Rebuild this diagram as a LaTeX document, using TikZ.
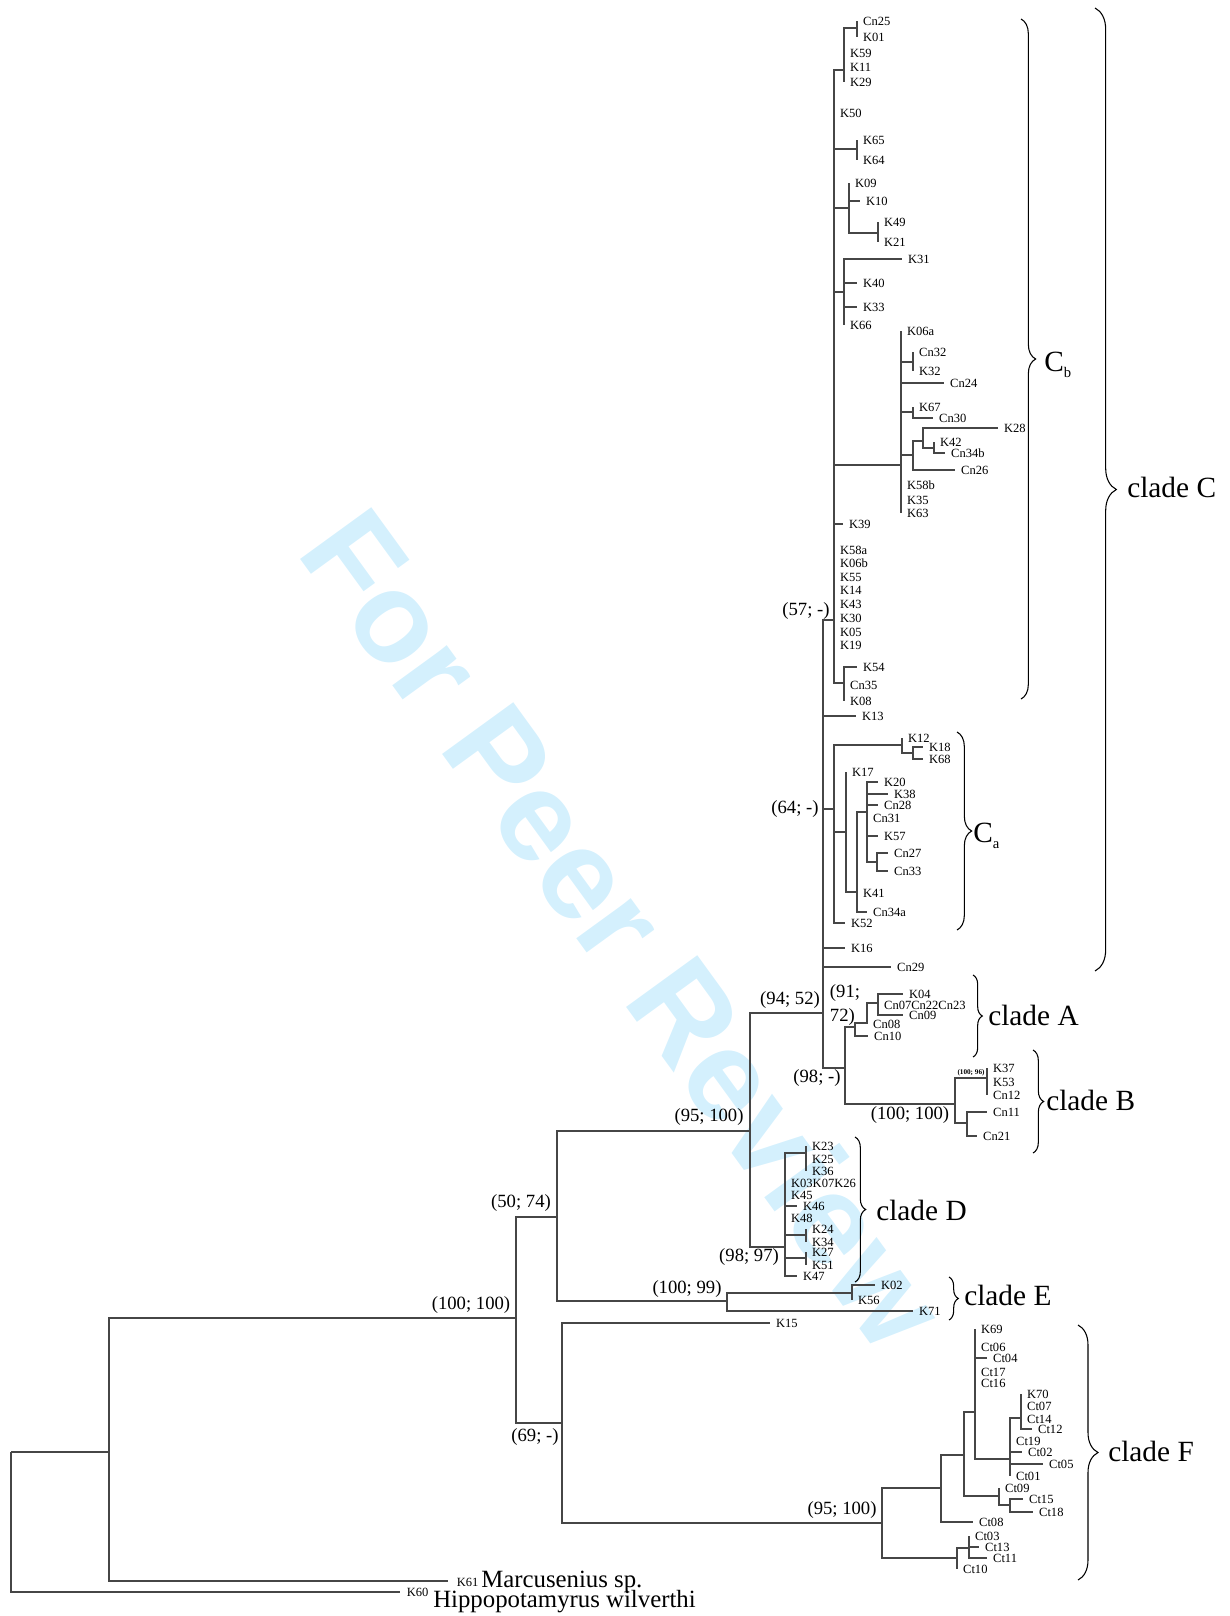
\documentclass[tikz,border=0pt]{standalone}
\usepackage{fontspec}
\setmainfont{Liberation Serif}
\newfontfamily\wmfont{Liberation Sans}
\usepackage{xcolor}
\definecolor{wm}{RGB}{212,240,253}
\definecolor{br}{RGB}{70,70,70}
\usepackage{tikz}
\usetikzlibrary{decorations.pathreplacing,positioning}

\begin{document}
\begin{tikzpicture}[x=0.75pt,y=-0.75pt,label distance=4pt,
  edge/.style={draw=br,line width=0.8pt},
  leaf/.style={font=\fontsize{9.4}{10}\selectfont,inner sep=0.4pt},
  supp/.style={font=\fontsize{14}{18}\selectfont,inner sep=0pt},
  species/.style={font=\fontsize{18.6}{20}\selectfont,inner sep=0pt},
  clade/.style={font=\fontsize{22}{24}\selectfont,anchor=west,inner sep=0pt},
  cbrace/.style={draw=black,line width=0.8pt,decorate,decoration={brace,amplitude=#1}}]
  \useasboundingbox (0,0) rectangle (1230,1616);
  \node[rotate=-54,anchor=base,text=wm,font=\wmfont\fontsize{96}{96}\selectfont\bfseries] (wmark) at (588,955) {For Peer Review};

  \coordinate (root) at (11,1452);
  \coordinate (n1) at (109,1452);
  \coordinate (n2) at (516,1318);
  \coordinate (n3) at (557,1217);
  \coordinate (n4) at (562,1423);
  \coordinate (n5) at (750,1131);
  \coordinate (n6) at (823,1013);
  \coordinate (nCb) at (834,620);
  \coordinate (nCb1) at (844,70);
  \coordinate (nCn25) at (857,28);
  \coordinate (nK65) at (857,149);
  \coordinate (nK09) at (849,208);
  \coordinate (nK49) at (878,233);
  \coordinate (nK31) at (844,292);
  \coordinate (nK06a) at (901,465);
  \coordinate (nCn32) at (913,362);
  \coordinate (nK67) at (913,412);
  \coordinate (nK28) at (913,455);
  \coordinate (nK28b) at (923,441);
  \coordinate (nK42) at (934,448);
  \coordinate (nK54) at (844,683);
  \coordinate (nCa) at (834,809);
  \coordinate (nK12) at (902,745);
  \coordinate (nK18) at (913,753);
  \coordinate (nK17) at (846,832);
  \coordinate (nK41) at (857,892);
  \coordinate (nK20) at (867,812);
  \coordinate (nCn27) at (877,862);
  \coordinate (nAB) at (845,1068);
  \coordinate (nA) at (855,1027);
  \coordinate (nA1) at (867,1023);
  \coordinate (nA2) at (878,1003);
  \coordinate (nB) at (955,1104);
  \coordinate (nB1) at (987,1078);
  \coordinate (nB2) at (967,1123);
  \coordinate (nD) at (785,1247);
  \coordinate (nK23) at (806,1153);
  \coordinate (nK24) at (806,1235);
  \coordinate (nK27) at (806,1258);
  \coordinate (nE) at (727,1301);
  \coordinate (nK02) at (852,1293);
  \coordinate (nF) at (882,1523);
  \coordinate (nF1) at (941,1488);
  \coordinate (nF2) at (957,1558);
  \coordinate (nF3) at (964,1455);
  \coordinate (nF4) at (975,1412);
  \coordinate (nF5) at (1010,1459);
  \coordinate (nK70) at (1021,1418);
  \coordinate (nCt09) at (999,1496);
  \coordinate (nCt15) at (1010,1505);
  \coordinate (nCt03) at (969,1548);

  \coordinate[label={[leaf]right:Cn25}] (Cn25) at (857,21);
  \coordinate[label={[leaf]right:K01}] (K01) at (857,37);
  \coordinate[label={[leaf]right:K59}] (K59) at (844,53);
  \coordinate[label={[leaf]right:K11}] (K11) at (844,67);
  \coordinate[label={[leaf]right:K29}] (K29) at (844,82);
  \coordinate[label={[leaf]right:K50}] (K50) at (834,113);
  \coordinate[label={[leaf]right:K65}] (K65) at (857,140);
  \coordinate[label={[leaf]right:K64}] (K64) at (857,160);
  \coordinate[label={[leaf]right:K09}] (K09) at (849,183);
  \coordinate[label={[leaf]right:K10}] (K10) at (860,201);
  \coordinate[label={[leaf]right:K49}] (K49) at (878,222);
  \coordinate[label={[leaf]right:K21}] (K21) at (878,242);
  \coordinate[label={[leaf]right:K31}] (K31) at (902,259);
  \coordinate[label={[leaf]right:K40}] (K40) at (857,283);
  \coordinate[label={[leaf]right:K33}] (K33) at (857,307);
  \coordinate[label={[leaf]right:K66}] (K66) at (844,325);
  \coordinate[label={[leaf]right:K06a}] (K06a) at (901,331);
  \coordinate[label={[leaf]right:Cn32}] (Cn32) at (913,352);
  \coordinate[label={[leaf]right:K32}] (K32) at (913,371);
  \coordinate[label={[leaf]right:Cn24}] (Cn24) at (944,383);
  \coordinate[label={[leaf]right:K67}] (K67) at (913,407);
  \coordinate[label={[leaf]right:Cn30}] (Cn30) at (933,418);
  \coordinate[label={[leaf]right:K28}] (K28) at (998,428);
  \coordinate[label={[leaf]right:K42}] (K42) at (934,442);
  \coordinate[label={[leaf]right:Cn34b}] (Cn34b) at (945,453);
  \coordinate[label={[leaf]right:Cn26}] (Cn26) at (955,470);
  \coordinate[label={[leaf]right:K58b}] (K58b) at (901,485);
  \coordinate[label={[leaf]right:K35}] (K35) at (901,500);
  \coordinate[label={[leaf]right:K63}] (K63) at (901,513);
  \coordinate[label={[leaf]right:K39}] (K39) at (843,524);
  \coordinate[label={[leaf]right:K58a}] (K58a) at (834,550);
  \coordinate[label={[leaf]right:K06b}] (K06b) at (834,563);
  \coordinate[label={[leaf]right:K55}] (K55) at (834,577);
  \coordinate[label={[leaf]right:K14}] (K14) at (834,590);
  \coordinate[label={[leaf]right:K43}] (K43) at (834,604);
  \coordinate[label={[leaf]right:K30}] (K30) at (834,618);
  \coordinate[label={[leaf]right:K05}] (K05) at (834,632);
  \coordinate[label={[leaf]right:K19}] (K19) at (834,645);
  \coordinate[label={[leaf]right:K54}] (K54) at (857,667);
  \coordinate[label={[leaf]right:Cn35}] (Cn35) at (844,685);
  \coordinate[label={[leaf]right:K08}] (K08) at (844,701);
  \coordinate[label={[leaf]right:K13}] (K13) at (856,716);
  \coordinate[label={[leaf]right:K12}] (K12) at (902,738);
  \coordinate[label={[leaf]right:K18}] (K18) at (923,747);
  \coordinate[label={[leaf]right:K68}] (K68) at (923,759);
  \coordinate[label={[leaf]right:K17}] (K17) at (846,772);
  \coordinate[label={[leaf]right:K20}] (K20) at (878,782);
  \coordinate[label={[leaf]right:K38}] (K38) at (888,794);
  \coordinate[label={[leaf]right:Cn28}] (Cn28) at (878,805);
  \coordinate[label={[leaf]right:Cn31}] (Cn31) at (867,818);
  \coordinate[label={[leaf]right:K57}] (K57) at (878,836);
  \coordinate[label={[leaf]right:Cn27}] (Cn27) at (888,853);
  \coordinate[label={[leaf]right:Cn33}] (Cn33) at (888,871);
  \coordinate[label={[leaf]right:K41}] (K41) at (857,893);
  \coordinate[label={[leaf]right:Cn34a}] (Cn34a) at (867,912);
  \coordinate[label={[leaf]right:K52}] (K52) at (845,923);
  \coordinate[label={[leaf]right:K16}] (K16) at (845,948);
  \coordinate[label={[leaf]right:Cn29}] (Cn29) at (891,967);
  \coordinate[label={[leaf]right:K04}] (K04) at (903,994);
  \coordinate[label={[leaf]right:Cn07Cn22Cn23}] (Cn07Cn22Cn23) at (878,1005);
  \coordinate[label={[leaf]right:Cn09}] (Cn09) at (903,1015);
  \coordinate[label={[leaf]right:Cn08}] (Cn08) at (867,1024);
  \coordinate[label={[leaf]right:Cn10}] (Cn10) at (868,1036);
  \coordinate[label={[leaf]right:K37}] (K37) at (987,1068);
  \coordinate[label={[leaf]right:K53}] (K53) at (987,1082);
  \coordinate[label={[leaf]right:Cn12}] (Cn12) at (987,1095);
  \coordinate[label={[leaf]right:Cn11}] (Cn11) at (987,1112);
  \coordinate[label={[leaf]right:Cn21}] (Cn21) at (977,1136);
  \coordinate[label={[leaf]right:K23}] (K23) at (806,1146);
  \coordinate[label={[leaf]right:K25}] (K25) at (806,1159);
  \coordinate[label={[leaf]right:K36}] (K36) at (806,1171);
  \coordinate[label={[leaf]right:K03K07K26}] (K03K07K26) at (785,1183);
  \coordinate[label={[leaf]right:K45}] (K45) at (785,1195);
  \coordinate[label={[leaf]right:K46}] (K46) at (797,1206);
  \coordinate[label={[leaf]right:K48}] (K48) at (785,1218);
  \coordinate[label={[leaf]right:K24}] (K24) at (806,1229);
  \coordinate[label={[leaf]right:K34}] (K34) at (806,1242);
  \coordinate[label={[leaf]right:K27}] (K27) at (806,1252);
  \coordinate[label={[leaf]right:K51}] (K51) at (806,1265);
  \coordinate[label={[leaf]right:K47}] (K47) at (797,1276);
  \coordinate[label={[leaf]right:K02}] (K02) at (875,1285);
  \coordinate[label={[leaf]right:K56}] (K56) at (852,1300);
  \coordinate[label={[leaf]right:K71}] (K71) at (913,1311);
  \coordinate[label={[leaf]right:K15}] (K15) at (770,1323);
  \coordinate[label={[leaf]right:K69}] (K69) at (975,1329);
  \coordinate[label={[leaf]right:Ct06}] (Ct06) at (975,1347);
  \coordinate[label={[leaf]right:Ct04}] (Ct04) at (987,1358);
  \coordinate[label={[leaf]right:Ct17}] (Ct17) at (975,1372);
  \coordinate[label={[leaf]right:Ct16}] (Ct16) at (975,1383);
  \coordinate[label={[leaf]right:K70}] (K70) at (1021,1394);
  \coordinate[label={[leaf]right:Ct07}] (Ct07) at (1021,1406);
  \coordinate[label={[leaf]right:Ct14}] (Ct14) at (1021,1419);
  \coordinate[label={[leaf]right:Ct12}] (Ct12) at (1032,1429);
  \coordinate[label={[leaf]right:Ct19}] (Ct19) at (1010,1441);
  \coordinate[label={[leaf]right:Ct02}] (Ct02) at (1022,1452);
  \coordinate[label={[leaf]right:Ct05}] (Ct05) at (1043,1464);
  \coordinate[label={[leaf]right:Ct01}] (Ct01) at (1010,1476);
  \coordinate[label={[leaf]right:Ct09}] (Ct09) at (999,1488);
  \coordinate[label={[leaf]right:Ct15}] (Ct15) at (1023,1499);
  \coordinate[label={[leaf]right:Ct18}] (Ct18) at (1033,1512);
  \coordinate[label={[leaf]right:Ct08}] (Ct08) at (973,1522);
  \coordinate[label={[leaf]right:Ct03}] (Ct03) at (969,1536);
  \coordinate[label={[leaf]right:Ct13}] (Ct13) at (979,1547);
  \coordinate[label={[leaf]right:Ct11}] (Ct11) at (987,1558);
  \coordinate[label={[leaf]right:Ct10}] (Ct10) at (957,1569);
  \coordinate (K61) at (448,1581);
  \node[leaf,anchor=base west] (K61lbl) at (456,1586) {K61};
  \node[species,anchor=base west] (marc) at (481,1587) {Marcusenius sp.};
  \coordinate (K60) at (400,1592);
  \node[leaf,anchor=base west] (K60lbl) at (406,1596) {K60};
  \node[species,anchor=base west] (hipp) at (433,1607) {Hippopotamyrus wilverthi};

  \draw[edge] (root) -- (n1) (root) |- (K60);
  \draw[edge] (n1) |- (n2) (n1) |- (K61);
  \draw[edge] (n2) |- (n3) (n2) |- (n4);
  \draw[edge] (n3) |- (n5) (n3) |- (nE);
  \draw[edge] (n4) |- (K15) (n4) |- (nF);
  \draw[edge] (n5) |- (n6) (n5) |- (nD);
  \draw[edge] (n6) |- (nCb) (n6) |- (K13) (n6) |- (nCa) (n6) |- (K16) (n6) |- (Cn29) (n6) |- (nAB);
  \draw[edge] (nCb) |- (nCb1) (nCb) |- (K50) (nCb) |- (nK65) (nCb) |- (nK09) (nCb) |- (nK31) (nCb) |- (nK06a) (nCb) |- (K39);
  \draw[edge] (nCb) |- (K58a) (nCb) |- (K06b) (nCb) |- (K55) (nCb) |- (K14) (nCb) |- (K43) (nCb) |- (K30) (nCb) |- (K05) (nCb) |- (K19) (nCb) |- (nK54);
  \draw[edge] (nCb1) |- (nCn25) (nCb1) |- (K59) (nCb1) |- (K11) (nCb1) |- (K29);
  \draw[edge] (nCn25) |- (Cn25) (nCn25) |- (K01);
  \draw[edge] (nK65) |- (K65) (nK65) |- (K64);
  \draw[edge] (nK09) |- (K09) (nK09) |- (K10) (nK09) |- (nK49);
  \draw[edge] (nK49) |- (K49) (nK49) |- (K21);
  \draw[edge] (nK31) |- (K31) (nK31) |- (K40) (nK31) |- (K33) (nK31) |- (K66);
  \draw[edge] (nK06a) |- (K06a) (nK06a) |- (nCn32) (nK06a) |- (Cn24) (nK06a) |- (nK67) (nK06a) |- (nK28) (nK06a) |- (K58b) (nK06a) |- (K35) (nK06a) |- (K63);
  \draw[edge] (nCn32) |- (Cn32) (nCn32) |- (K32);
  \draw[edge] (nK67) |- (K67) (nK67) |- (Cn30);
  \draw[edge] (nK28) |- (nK28b) (nK28) |- (Cn26);
  \draw[edge] (nK28b) |- (K28) (nK28b) |- (nK42);
  \draw[edge] (nK42) |- (K42) (nK42) |- (Cn34b);
  \draw[edge] (nK54) |- (K54) (nK54) |- (Cn35) (nK54) |- (K08);
  \draw[edge] (nCa) |- (nK12) (nCa) |- (nK17) (nCa) |- (K52);
  \draw[edge] (nK12) |- (K12) (nK12) |- (nK18);
  \draw[edge] (nK18) |- (K18) (nK18) |- (K68);
  \draw[edge] (nK17) |- (K17) (nK17) |- (nK41);
  \draw[edge] (nK41) |- (nK20) (nK41) |- (K41) (nK41) |- (Cn34a);
  \draw[edge] (nK20) |- (K20) (nK20) |- (K38) (nK20) |- (Cn28) (nK20) |- (Cn31) (nK20) |- (K57) (nK20) |- (nCn27);
  \draw[edge] (nCn27) |- (Cn27) (nCn27) |- (Cn33);
  \draw[edge] (nAB) |- (nA) (nAB) |- (nB);
  \draw[edge] (nA) |- (nA1) (nA) |- (Cn10);
  \draw[edge] (nA1) |- (nA2) (nA1) |- (Cn08);
  \draw[edge] (nA2) |- (K04) (nA2) |- (Cn07Cn22Cn23) (nA2) |- (Cn09);
  \draw[edge] (nB) |- (nB1) (nB) |- (nB2);
  \draw[edge] (nB1) |- (K37) (nB1) |- (K53) (nB1) |- (Cn12);
  \draw[edge] (nB2) |- (Cn11) (nB2) |- (Cn21);
  \draw[edge] (nD) |- (nK23) (nD) |- (K03K07K26) (nD) |- (K45) (nD) |- (K46) (nD) |- (K48) (nD) |- (nK24) (nD) |- (nK27) (nD) |- (K47);
  \draw[edge] (nK23) |- (K23) (nK23) |- (K25) (nK23) |- (K36);
  \draw[edge] (nK24) |- (K24) (nK24) |- (K34);
  \draw[edge] (nK27) |- (K27) (nK27) |- (K51);
  \draw[edge] (nE) |- (nK02) (nE) |- (K71);
  \draw[edge] (nK02) |- (K02) (nK02) |- (K56);
  \draw[edge] (nF) |- (nF1) (nF) |- (nF2);
  \draw[edge] (nF1) |- (nF3) (nF1) |- (Ct08);
  \draw[edge] (nF3) |- (nF4) (nF3) |- (nCt09);
  \draw[edge] (nF4) |- (K69) (nF4) |- (Ct06) (nF4) |- (Ct04) (nF4) |- (Ct17) (nF4) |- (Ct16) (nF4) |- (nF5);
  \draw[edge] (nF5) |- (nK70) (nF5) |- (Ct19) (nF5) |- (Ct02) (nF5) |- (Ct05) (nF5) |- (Ct01);
  \draw[edge] (nK70) |- (K70) (nK70) |- (Ct07) (nK70) |- (Ct14) (nK70) |- (Ct12);
  \draw[edge] (nCt09) |- (Ct09) (nCt09) |- (nCt15);
  \draw[edge] (nCt15) |- (Ct15) (nCt15) |- (Ct18);
  \draw[edge] (nF2) |- (nCt03) (nF2) |- (Ct10);
  \draw[edge] (nCt03) |- (Ct03) (nCt03) |- (Ct13) (nCt03) |- (Ct11);

  \node[supp] (s57) at (806,611) {(57; -)};
  \node[supp] (s64) at (795,809) {(64; -)};
  \node[supp] (s9452) at (790,1000) {(94; 52)};
  \node[supp,align=left] (s9172) at (845,1005) {(91;\\72)};
  \node[supp] (s98) at (817,1078) {(98; -)};
  \node[supp] (s100b) at (910,1115) {(100; 100)};
  \node[font=\fontsize{5.4}{6}\selectfont\bfseries,inner sep=0pt] (s10096) at (971,1073) {(100; 96)};
  \node[supp] (s95a) at (709,1117) {(95; 100)};
  \node[supp] (s9897) at (749,1257) {(98; 97)};
  \node[supp] (s5074) at (521,1203) {(50; 74)};
  \node[supp] (s10099) at (687,1289) {(100; 99)};
  \node[supp] (s100r) at (471,1305) {(100; 100)};
  \node[supp] (s69) at (535,1437) {(69; -)};
  \node[supp] (s95f) at (842,1510) {(95; 100)};

  \draw[cbrace=16pt] (1095,8) -- (1095,971);
  \draw[cbrace=11pt] (1021,19) -- (1021,699);
  \draw[cbrace=11pt] (957,732) -- (957,930);
  \draw[cbrace=7pt] (973,975) -- (973,1057);
  \draw[cbrace=8pt] (1033,1050) -- (1033,1153);
  \draw[cbrace=8pt] (855,1137) -- (855,1282);
  \draw[cbrace=7pt] (949,1277) -- (949,1320);
  \draw[cbrace=15pt] (1078,1325) -- (1078,1580);
  \node[clade] (cladeC) at (1127,487) {clade C};
  \node[clade,anchor=base west] (cladeCb) at (1044,371) {C\raisebox{-5pt}{\fontsize{11}{11}\selectfont b}};
  \node[clade,anchor=base west] (cladeCa) at (973,842) {C\raisebox{-5pt}{\fontsize{11}{11}\selectfont a}};
  \node[clade] (cladeA) at (988,1015) {clade A};
  \node[clade] (cladeB) at (1046,1100) {clade B};
  \node[clade] (cladeD) at (876,1210) {clade D};
  \node[clade] (cladeE) at (964,1295) {clade E};
  \node[clade] (cladeF) at (1108,1451) {clade F};
\end{tikzpicture}
\end{document}
